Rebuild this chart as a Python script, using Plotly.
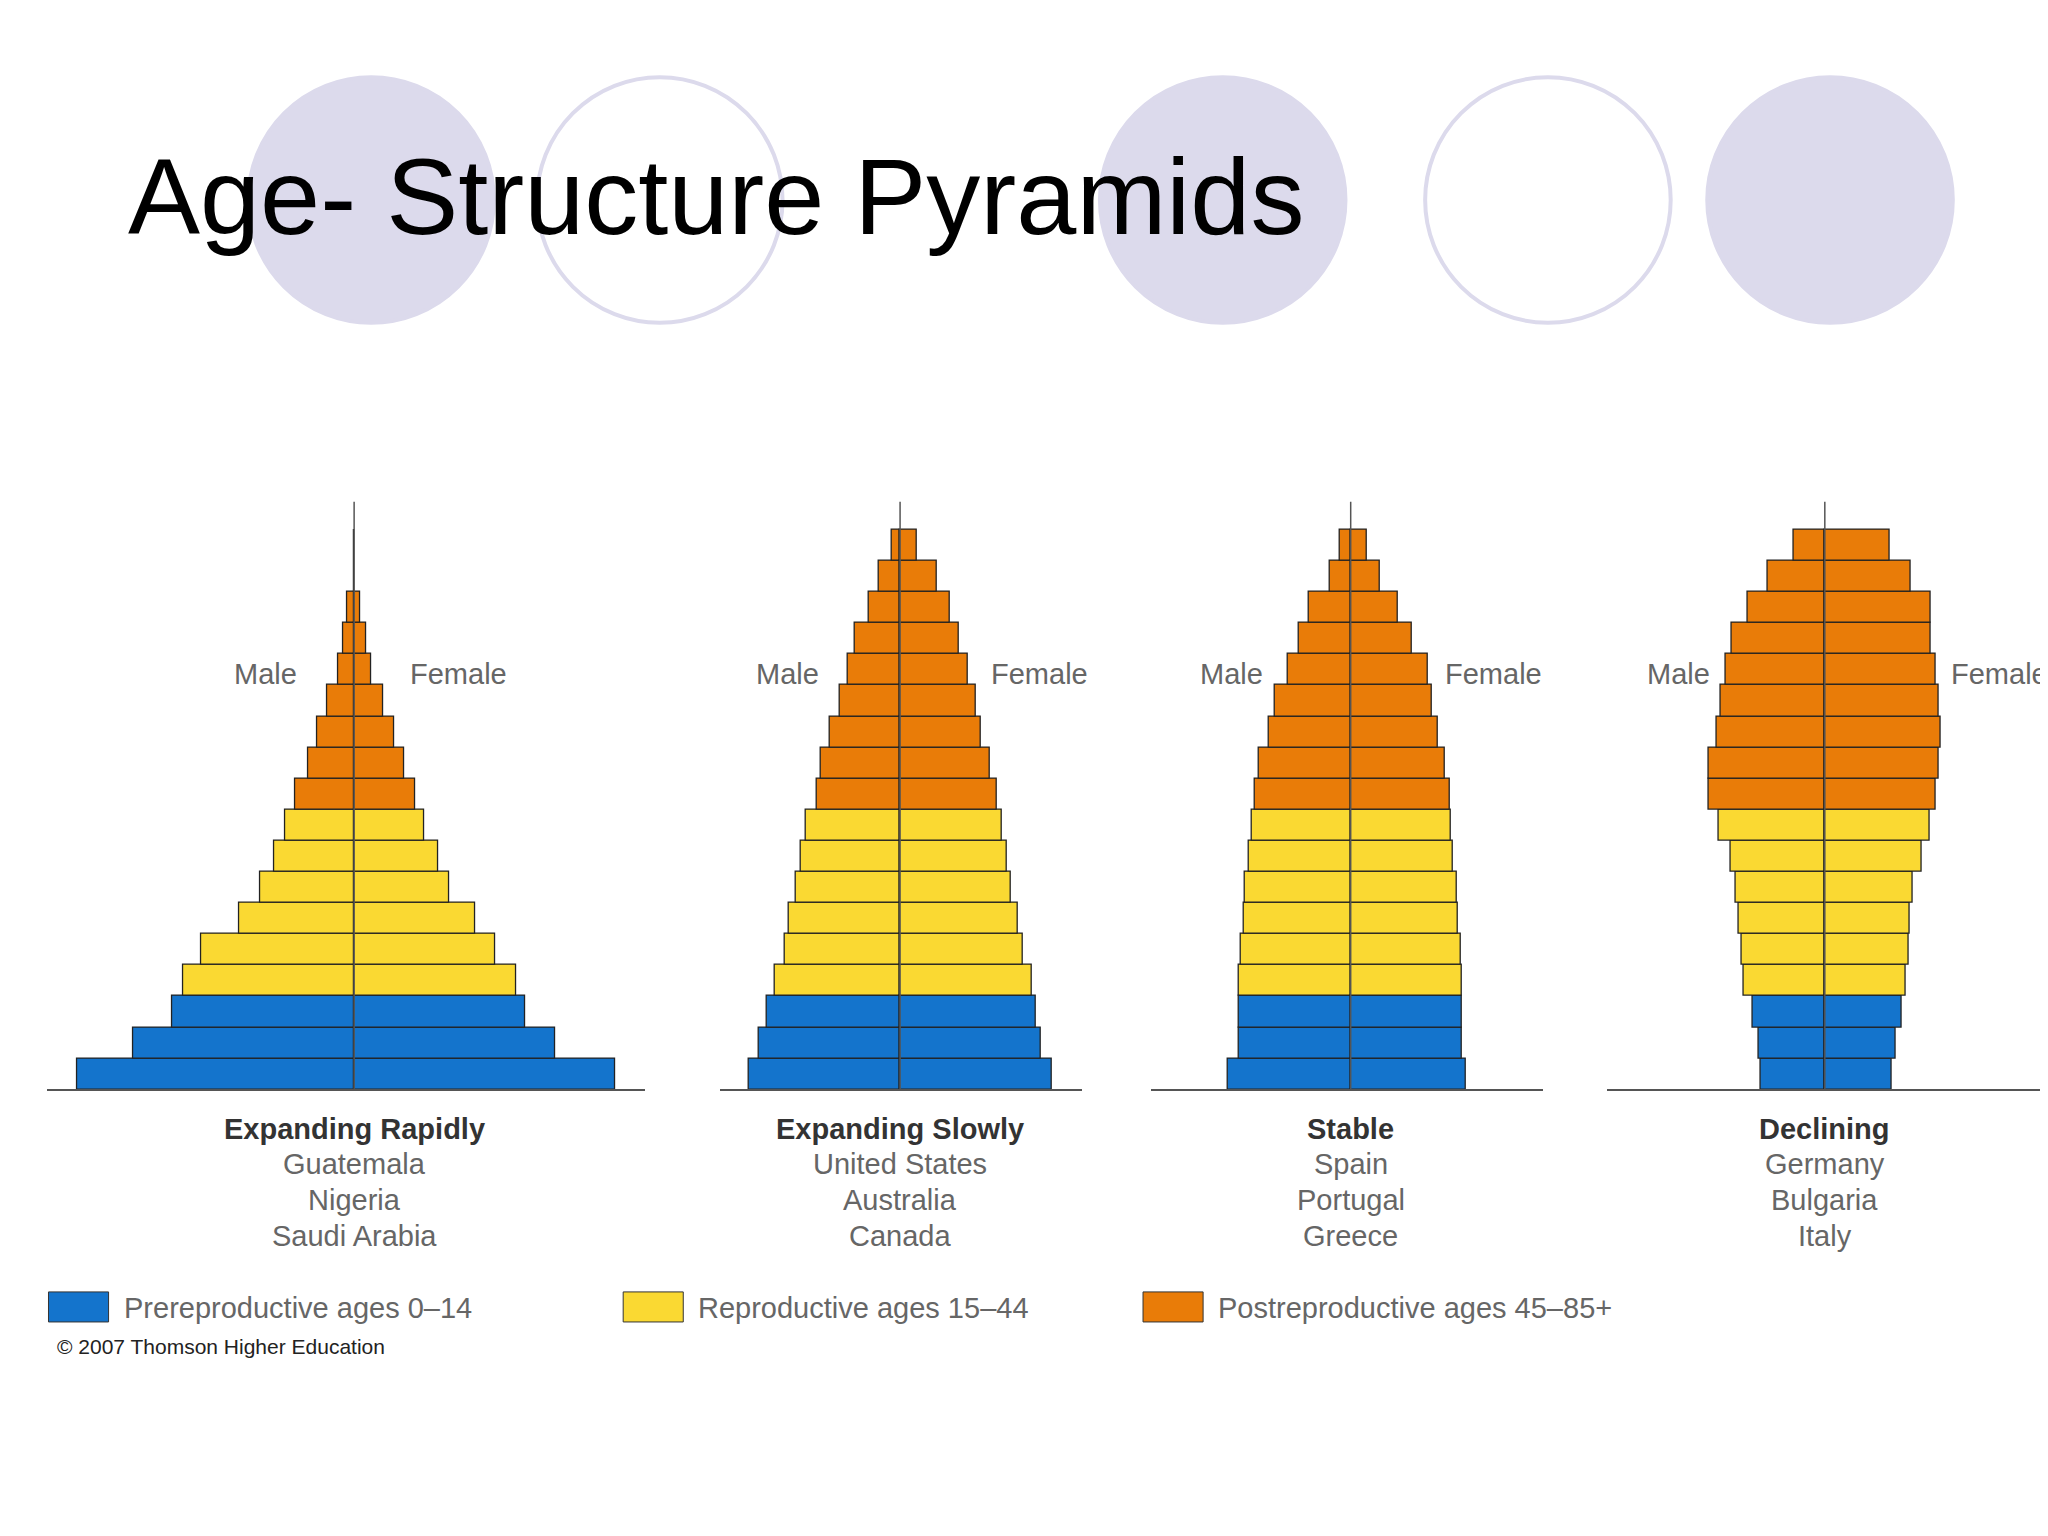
import plotly.graph_objects as go

# age groups, bottom to top
ages = ["0-4", "5-9", "10-14", "15-19", "20-24", "25-29", "30-34", "35-39", "40-44",
        "45-49", "50-54", "55-59", "60-64", "65-69", "70-74", "75-79", "80-84", "85+"]
groups = ["pre"] * 3 + ["rep"] * 6 + ["post"] * 9

# relative share of each age group (same units for all four pyramids)
rapid_m = [212, 169, 139, 131, 117, 88, 72, 61, 53, 45, 35, 28, 21, 12, 8, 5, 0, 0]
rapid_f = [200, 154, 131, 124, 108, 93, 73, 64, 54, 47, 38, 31, 22, 13, 9, 5, 0, 0]
slow_m = [116, 108, 102, 96, 88, 85, 80, 76, 72, 64, 61, 54, 46, 40, 35, 24, 16, 6]
slow_f = [116, 108, 104, 101, 94, 90, 85, 82, 78, 74, 69, 62, 58, 52, 45, 38, 28, 13]
stable_m = [94, 86, 86, 86, 84, 82, 81, 78, 76, 73, 70, 63, 58, 48, 40, 32, 16, 8]
stable_f = [88, 85, 85, 85, 84, 82, 81, 78, 77, 76, 72, 67, 62, 59, 47, 36, 22, 12]
decl_m = [49, 51, 55, 62, 64, 66, 68, 72, 81, 89, 89, 83, 80, 76, 71, 59, 44, 24]
decl_f = [51, 54, 59, 62, 64, 65, 67, 74, 80, 85, 87, 89, 87, 85, 81, 81, 66, 50]

titles = ["Expanding Rapidly", "Expanding Slowly", "Stable", "Declining"]
countries = [["Guatemala", "Nigeria", "Saudi Arabia"],
             ["United States", "Australia", "Canada"],
             ["Spain", "Portugal", "Greece"],
             ["Germany", "Bulgaria", "Italy"]]
legend_labels = ["Prereproductive ages 0\u201314", "Reproductive ages 15\u201344",
                 "Postreproductive ages 45\u201385+"]

colors = {"pre": "#1474CC", "rep": "#FAD932", "post": "#E97C08"}
W, H = 1568.0, 1176.0  # design units (scaled to 2048x1536)


def px(x):
    return x / W


def py(y):
    return 1 - y / H


def label(fig, x, y, text, size, color, xanchor="center"):
    fig.add_annotation(x=px(x), y=py(y), xref="paper", yref="paper", text=text,
                       xanchor=xanchor, yanchor="middle", showarrow=False,
                       font=dict(size=size, color=color))


data = [(rapid_m, rapid_f), (slow_m, slow_f), (stable_m, stable_f), (decl_m, decl_f)]
# axis line extents and centres in design px
panels = [(30, 488, 265), (545, 822, 683), (875, 1175, 1028), (1224, 1568, 1391)]

fig = go.Figure()
layout = dict()
bar_colors = [colors[g] for g in groups]
for i, ((m, f), (l, r, c)) in enumerate(zip(data, panels)):
    ax = "" if i == 0 else str(i + 1)
    for vals, sign in ((m, -1), (f, 1)):
        fig.add_trace(go.Bar(
            y=list(range(len(ages))), x=[sign * v for v in vals], orientation="h",
            marker=dict(color=bar_colors, line=dict(color="#222", width=1.3)),
            width=1, xaxis="x" + ax, yaxis="y" + ax, showlegend=False,
            hovertext=ages))
    layout["xaxis" + ax] = dict(domain=[px(l), px(r)], range=[l - c, r - c],
                                showgrid=False, zeroline=False, showticklabels=False,
                                showline=True, linecolor="#555", linewidth=1.5,
                                anchor="y" + ax, fixedrange=True)
    layout["yaxis" + ax] = dict(domain=[py(828), py(378)], range=[-0.5, 18.4],
                                showgrid=False, zeroline=False, showticklabels=False,
                                showline=False, anchor="x" + ax)
    fig.add_shape(type="line", xref="x" + ax, yref="paper", x0=0, x1=0,
                  y0=py(828), y1=py(378), line=dict(color="#555", width=1.5))
    label(fig, c, 858, "<b>" + titles[i] + "</b>", 29, "#333")
    for k, name in enumerate(countries[i]):
        label(fig, c, 885 + 27.5 * k, name, 29, "#666")

male_x = [197, 597, 937, 1279]
female_x = [345, 790, 1137, 1525]
for mx, fx in zip(male_x, female_x):
    label(fig, mx, 510, "Male", 29, "#666")
    label(fig, fx, 510, "Female", 29, "#666")

# legend boxes
for (x0, lab), key in zip([(31, legend_labels[0]), (471, legend_labels[1]),
                           (869, legend_labels[2])], ["pre", "rep", "post"]):
    fig.add_shape(type="rect", xref="paper", yref="paper", x0=px(x0), x1=px(x0 + 46),
                  y0=py(1006), y1=py(983), fillcolor=colors[key],
                  line=dict(color="#333", width=1))
    label(fig, x0 + 56, 995, lab, 29, "#666", xanchor="left")
label(fig, 36, 1025, "\u00a9 2007 Thomson Higher Education", 21, "#222", xanchor="left")

# decorative circles
for cx, filled in [(278, True), (499, False), (930, True), (1179, False), (1395, True)]:
    fig.add_shape(type="circle", xref="paper", yref="paper", layer="below",
                  x0=px(cx - 94), x1=px(cx + 94), y0=py(147 + 94), y1=py(147 - 94),
                  fillcolor="#DCDAEC" if filled else "rgba(0,0,0,0)",
                  line=dict(color="#DCDAEC", width=4))
label(fig, 90, 144, "Age- Structure Pyramids", 108, "black", xanchor="left")

fig.update_layout(**layout, width=2048, height=1536, barmode="relative", bargap=0,
                  margin=dict(l=0, r=0, t=0, b=0), plot_bgcolor="white",
                  paper_bgcolor="white", font=dict(family="Liberation Sans"))
fig.write_html("out.html")
